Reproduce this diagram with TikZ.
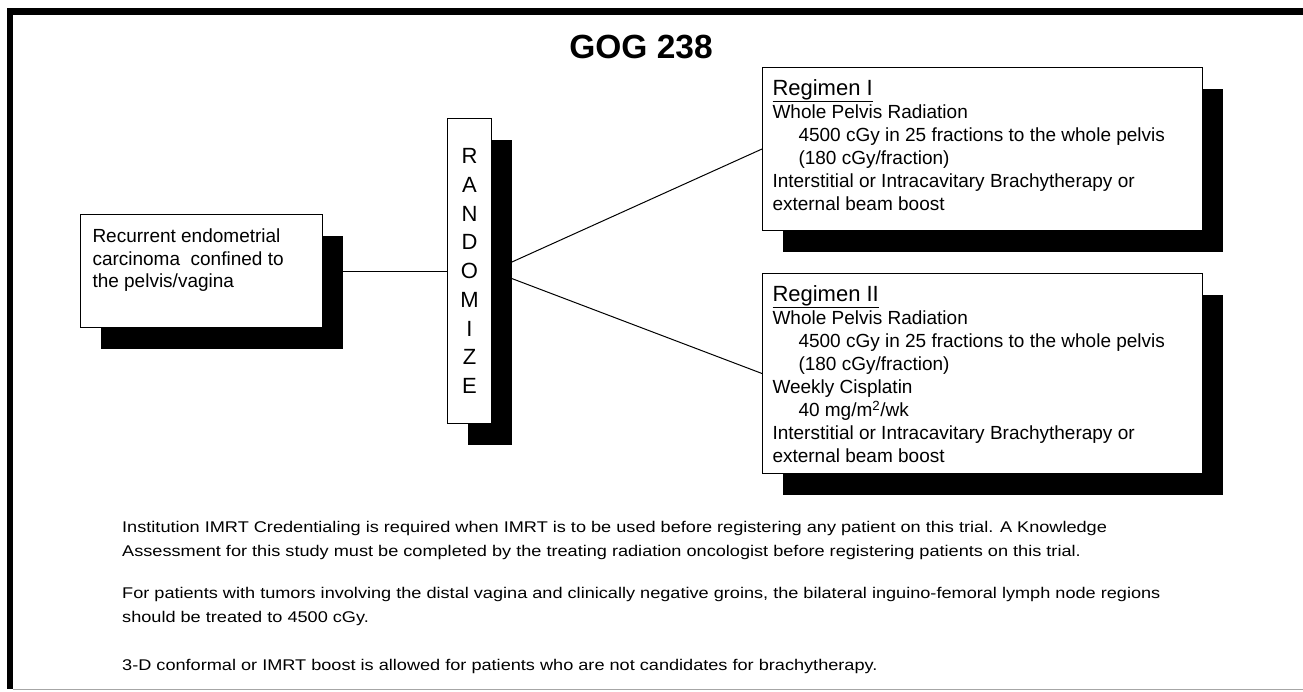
\documentclass[tikz,border=0pt]{standalone}
\usepackage{fontspec}
\setmainfont{Liberation Sans}
\newfontfamily\notefont[FakeStretch=1.17]{Liberation Sans}
\usetikzlibrary{shadows,backgrounds}

\tikzstyle{b} = [rectangle, draw=black, line width=1pt, fill=white, inner sep=0pt, anchor=north west, drop shadow={shadow xshift=20pt, shadow yshift=-21pt, fill=black, opacity=1}]
\tikzstyle{n} = [inner sep=0pt, anchor=base west]

% box text: height, width, text (first baseline 28pt below the top)
\newcommand{\boxtext}[3]{\parbox[c][#1][t]{#2}{\raggedright\rule{0pt}{28pt}#3}}

\begin{document}
\begin{tikzpicture}[x=1pt,y=-1pt]
\useasboundingbox (0,0) rectangle (1303,691);

    % frame
    \fill (7,8) rectangle (1303,15);
    \fill (7,8) rectangle (13,689);
    \draw[gray!70, line width=1.5pt] (13,689.5) -- (1303,689.5);

    \node[anchor=base, font=\fontsize{33.5}{36}\selectfont\bfseries] (title) at (641,58) {GOG 238};

    \node[b, inner xsep=12pt] (rec) at (80,214) {\boxtext{113pt}{218pt}{\fontsize{19}{22.5}\selectfont
        Recurrent endometrial\\ carcinoma\ \ confined to\\ the pelvis/vagina}};

    \node[b] (rand) at (447,118) {\parbox[c][305pt][c]{44pt}{\centering\fontsize{22}{28.75}\selectfont
        R\\A\\N\\D\\O\\M\\I\\Z\\E}};

    \node[b, inner xsep=10pt] (reg1) at (762,67) {\boxtext{163pt}{420pt}{\fontsize{19}{23}\selectfont
        {\fontsize{22}{23}\selectfont\underline{Regimen I}}\\
        Whole Pelvis Radiation\\
        \hspace*{26pt}4500 cGy in 25 fractions to the whole pelvis\\
        \hspace*{26pt}(180 cGy/fraction)\\
        Interstitial or Intracavitary Brachytherapy or\\
        external beam boost}};

    \node[b, inner xsep=10pt] (reg2) at (762,273) {\boxtext{200pt}{420pt}{\fontsize{19}{23}\selectfont
        {\fontsize{22}{23}\selectfont\underline{Regimen II}}\\
        Whole Pelvis Radiation\\
        \hspace*{26pt}4500 cGy in 25 fractions to the whole pelvis\\
        \hspace*{26pt}(180 cGy/fraction)\\
        Weekly Cisplatin\\
        \hspace*{26pt}40 mg/m\textsuperscript{2}/wk\\
        Interstitial or Intracavitary Brachytherapy or\\
        external beam boost}};

    \node[n] (notes) at (122,532) {\parbox[t]{1170pt}{\notefont\fontsize{15.5}{24}\selectfont
        Institution IMRT Credentialing is required when IMRT is to be used before registering any patient on this trial. A Knowledge\\
        Assessment for this study must be completed by the treating radiation oncologist before registering patients on this trial.\\[18pt]
        For patients with tumors involving the distal vagina and clinically negative groins, the bilateral inguino-femoral lymph node regions\\
        should be treated to 4500 cGy.\\[24pt]
        3-D conformal or IMRT boost is allowed for patients who are not candidates for brachytherapy.}};

    \begin{scope}[on background layer]
    \draw[line width=1pt] (rec.east) -- (rand.west);
    \draw[line width=1pt] (rand.east) -- (reg1.west);
    \draw[line width=1pt] (rand.east) -- (reg2.west);
    \end{scope}

\end{tikzpicture}
\end{document}
